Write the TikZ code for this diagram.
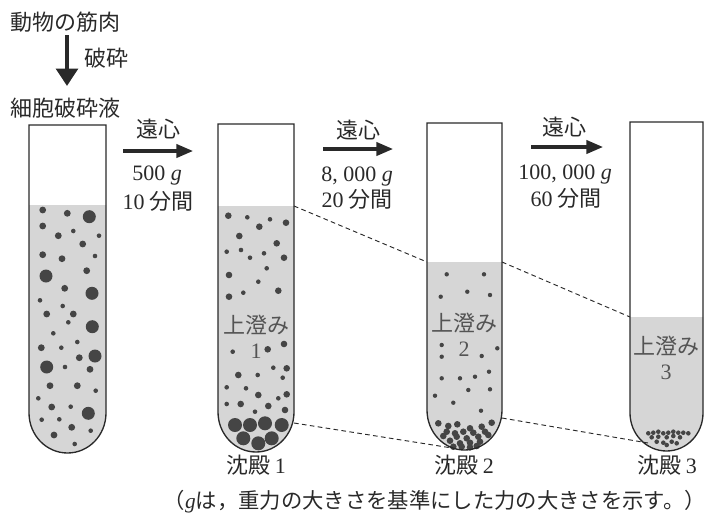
\documentclass[tikz,border=0pt]{standalone}
\usepackage{fontspec}
\setmainfont{Noto Sans CJK JP}
\newfontfamily\num{Liberation Serif}
\usetikzlibrary{arrows.meta}
\definecolor{ink}{gray}{0.16}
\definecolor{liquid}{gray}{0.84}
\definecolor{grain}{gray}{0.27}

\begin{document}
\begin{tikzpicture}[x=0.75pt, y=-0.75pt, tube/.style={draw=ink, line width=1pt}, spin/.style={draw=ink, line width=2.3pt, -{Triangle[length=12.5pt,width=10pt]}}, level/.style={draw=ink, line width=0.7pt, dash pattern=on 3.5pt off 2.5pt}, txt/.style={text=ink, inner sep=0pt, font=\fontsize{16.5}{19}\selectfont}, sup label/.style={txt, text=ink!80, align=center}]%
\useasboundingbox (0,0) rectangle (707,515);

% liquid in the four tubes
\fill[liquid] (29,205) -- (29,413) arc[start angle=180, end angle=0, x radius=38.5, y radius=40] -- (106,205) -- cycle;
\fill[liquid] (218,206) -- (218,412) arc[start angle=180, end angle=0, x radius=38, y radius=40] -- (294,206) -- cycle;
\fill[liquid] (427,262) -- (427,410) arc[start angle=180, end angle=0, x radius=37.5, y radius=40] -- (502,262) -- cycle;
\fill[liquid] (630,317) -- (630,413) arc[start angle=180, end angle=0, x radius=36.5, y radius=38] -- (703,317) -- cycle;

% particles
\begin{scope}[every path/.style={fill=grain}]
% homogenate
\foreach \x/\y in {89.3/216.7, 46/276, 92/293.3, 92.3/326.7, 95/356, 46.7/367, 88.3/413.3}
  \fill (\x,\y) circle[radius=6.5];
\foreach \x/\y in {42.7/210, 67.3/213.3, 42.7/226, 58.3/235.7, 82.7/244, 42.7/254.7, 62/258.7, 86.7/270.7, 64.7/288.3, 46.7/314, 73.3/314, 41.3/347.7, 79.3/357.7, 90/369.3, 50/385.7, 77.3/385.7, 51.7/407, 71.7/427.3, 54/435}
  \fill (\x,\y) circle[radius=3.4];
\foreach \x/\y in {73.3/231, 99/235.7, 95/256, 40/300.3, 62.7/306, 68.3/322.3, 53.3/333.3, 77.3/342, 61.3/347.7, 65/367, 95.7/390.7, 38.3/398.3, 70.7/406.7, 41.7/419.7, 59.3/419.3, 90.7/430.7, 74.7/444}
  \fill (\x,\y) circle[radius=2.3];
% supernatant 1
\foreach \x/\y in {228.3/215.7, 259.3/226.7, 286/222.7, 239.3/236, 276.7/243.3, 284/257.7, 229/275, 278.3/290.7, 229/296.7, 267.7/349.3, 284/344, 286.7/368.3, 238.3/375, 258.3/395, 286.7/394.3, 240.7/404, 268.3/406, 285/410}
  \fill (\x,\y) circle[radius=3.3];
\foreach \x/\y in {247.3/217.3, 270/219.3, 226.7/251.7, 241/250, 250/257.7, 264/253.3, 266.7/268.3, 258.3/281.7, 243.3/292.7, 232.7/351.7, 273.3/367.7, 257.7/375, 282.7/377.7, 226.7/387.3, 246/388.3, 278.3/398.3, 226.7/404, 255/411.7}
  \fill (\x,\y) circle[radius=2.3];
% pellet 1
\foreach \x/\y in {235/425, 250/425, 265/423.3, 281.7/425, 243.3/438.3, 258.3/443.3, 271.7/438.3}
  \fill (\x,\y) circle[radius=7];
% supernatant 2
\foreach \x/\y in {446.7/274.3, 484/274.3, 467.3/291.7, 440.7/296.7, 490/295, 441.7/345, 441.7/356.7, 497.3/348.3, 481.7/356, 441.7/378.3, 460/378.3, 475/376.7, 489/371.7, 468.3/390, 490/389.3, 435/395.7, 453.3/402.7, 481/410.7}
  \fill (\x,\y) circle[radius=2.2];
% pellet 2
\foreach \x/\y in {438.3/423.3, 448.3/426, 457.3/424.3, 470/428.3, 481.7/426.7, 491.7/422.7, 446.7/431.7, 455/433.3, 463.3/431.7, 473.3/432.7, 485/431.7, 443.3/436, 456.7/436.7, 466.7/438.3, 478.3/436.7, 488.3/435, 450/440.7, 460/443.3, 470/442.7, 480/441.7, 453.3/446.7, 461.7/446.7, 470/447.3, 476.7/446}
  \fill (\x,\y) circle[radius=3.3];
% pellet 3
\foreach \x/\y in {648.3/433.3, 653.3/432.7, 658.3/431.7, 663.3/433.3, 668.3/432.7, 673.3/431.7, 678.3/432.7, 683.3/432.7, 688.3/433.3, 651.7/437.3, 658.3/436.7, 666.7/437.3, 673.3/436, 680/437.3, 656.7/441.7, 663.3/442.7, 671.7/441.7, 666.7/445, 676.7/443.3}
  \fill (\x,\y) circle[radius=2.3];
\end{scope}

% tube outlines
\draw[tube] (29,125) -- (29,413) arc[start angle=180, end angle=0, x radius=38.5, y radius=40] -- (106,125) -- cycle;
\draw[tube] (218,124) -- (218,412) arc[start angle=180, end angle=0, x radius=38, y radius=40] -- (294,124) -- cycle;
\draw[tube] (427,123) -- (427,410) arc[start angle=180, end angle=0, x radius=37.5, y radius=40] -- (502,123) -- cycle;
\draw[tube] (630,122) -- (630,413) arc[start angle=180, end angle=0, x radius=36.5, y radius=38] -- (703,122) -- cycle;

% levels carried from tube to tube
\coordinate (top1) at (294,206);
\coordinate (top2l) at (427,262);
\coordinate (top2r) at (502,262);
\coordinate (top3) at (630,317);
\coordinate (pel1) at (294,423);
\coordinate (pel2l) at (452,448);
\coordinate (pel2r) at (502,418);
\coordinate (pel3) at (648,443);
\draw[level] (top1) -- (top2l);
\draw[level] (top2r) -- (top3);
\draw[level] (pel1) -- (pel2l);
\draw[level] (pel2r) -- (pel3);

% start material
\node[txt] (muscle) at (65,22) {動物の筋肉};
\node[txt] (crush) at (106,58) {破砕};
\node[txt] (lysate) at (65,108) {細胞破砕液};
\coordinate (down1) at (67,35);
\coordinate (down2) at (67,86);
\draw[spin, line width=3.4pt, -{Triangle[length=13pt,width=16pt]}] (down1) -- (down2);

% centrifuge steps
\coordinate (a1s) at (123,151);
\coordinate (a1e) at (193,151);
\coordinate (a2s) at (323,149);
\coordinate (a2e) at (393,149);
\coordinate (a3s) at (531,147);
\coordinate (a3e) at (603,147);
\draw[spin] (a1s) -- (a1e);
\draw[spin] (a2s) -- (a2e);
\draw[spin] (a3s) -- (a3e);
\node[txt] (spin1) at (158,129) {遠心};
\node[txt] (force1) at (157,176) {\num 500 \textit{g}};
\node[txt] (time1) at (158,201) {{\num 10} 分間};
\node[txt] (spin2) at (358,130) {遠心};
\node[txt] (force2) at (357,177) {\num 8, 000 \textit{g}};
\node[txt] (time2) at (357,199) {{\num 20} 分間};
\node[txt] (spin3) at (564,127) {遠心};
\node[txt] (force3) at (565,175) {\num 100, 000 \textit{g}};
\node[txt] (time3) at (566,198) {{\num 60} 分間};

% fractions
\node[sup label] (sup1) at (256,337) {上澄み\\{\num 1}};
\node[sup label] (sup2) at (464,335) {上澄み\\{\num 2}};
\node[sup label] (sup3) at (666,358) {上澄み\\{\num 3}};
\node[txt] (ppt1) at (256,465) {沈殿 {\num 1}};
\node[txt] (ppt2) at (464,465) {沈殿 {\num 2}};
\node[txt] (ppt3) at (667,465) {沈殿 {\num 3}};
\node[txt, font=\fontsize{16}{19}\selectfont, anchor=east] (note) at (706,502) {（{\num\itshape g}は，重力の大きさを基準にした力の大きさを示す。）};
\end{tikzpicture}
\end{document}
